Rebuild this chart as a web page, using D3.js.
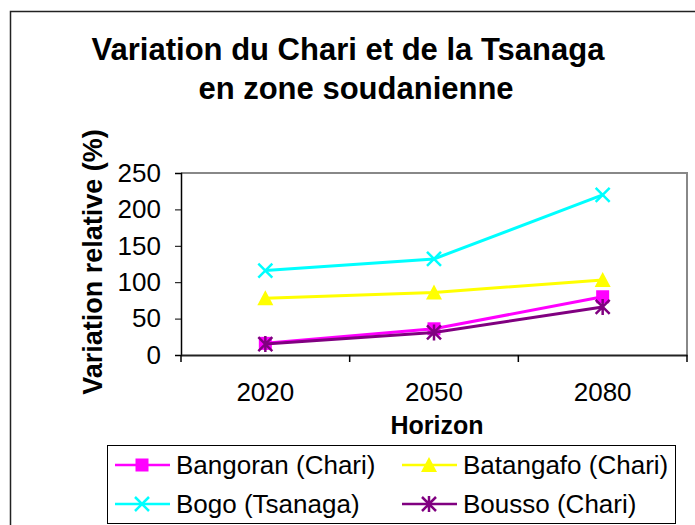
<!DOCTYPE html>
<html>
<head>
<meta charset="utf-8">
<script src="https://cdn.jsdelivr.net/npm/d3@7"></script>
<style>
  body { margin: 0; background: #fff; }
  svg text { font-family: "Liberation Sans", Arial, sans-serif; }
</style>
</head>
<body>
<div id="chartDiv"></div>
<script>
// data
var horizons = ["2020", "2050", "2080"];
var bangoran = [16, 36, 80];
var batangafo = [78, 86, 103];
var bogo = [116, 132, 220];
var bousso = [15, 31, 66];
var yTicks = [0, 50, 100, 150, 200, 250];

var series = [
    {name: "Bangoran (Chari)", values: bangoran, color: "#ff00ff", marker: "square"},
    {name: "Batangafo (Chari)", values: batangafo, color: "#ffff00", marker: "triangle"},
    {name: "Bogo (Tsanaga)", values: bogo, color: "#00ffff", marker: "cross"},
    {name: "Bousso (Chari)", values: bousso, color: "#800080", marker: "star"}
];

var width = 695, height = 525;
var margin = {top: 173, right: 8, bottom: 170, left: 181};

var svg = d3.select("#chartDiv").append("svg")
    .attr("width", width)
    .attr("height", height);

// outer chart frame (runs past the window edges like the original)
svg.append("rect")
    .attr("x", 10.5).attr("y", 11.5)
    .attr("width", 700).attr("height", 530)
    .attr("fill", "none")
    .attr("stroke", "#222")
    .attr("stroke-width", 1.5);

// title
var title = svg.append("text")
    .attr("text-anchor", "middle")
    .style("font-weight", "bold")
    .style("font-size", "31px");
title.append("tspan").attr("x", 348).attr("y", 60).text("Variation du Chari et de la Tsanaga");
title.append("tspan").attr("x", 356).attr("y", 99).text("en zone soudanienne");

var x = d3.scaleBand()
    .domain(horizons)
    .range([margin.left, width - margin.right]);

var y = d3.scaleLinear()
    .domain([0, 250])
    .range([height - margin.bottom, margin.top]);

// plot border (gray top/right)
svg.append("path")
    .attr("d", `M${x.range()[0]},${y(250)}H${x.range()[1]}V${y(0)}`)
    .attr("fill", "none")
    .attr("stroke", "#888")
    .attr("stroke-width", 2);

var yAxis = svg.append("g")
    .attr("transform", `translate(${margin.left},0)`)
    .call(d3.axisLeft(y).tickValues(yTicks).tickSize(6).tickPadding(14));
yAxis.select(".domain").attr("stroke", "#000").attr("stroke-width", 1.5);
yAxis.selectAll("text").style("font-size", "26px").attr("fill", "#000")
    .attr("font-family", null);

var xAxis = svg.append("g")
    .attr("transform", `translate(0,${y(0)})`)
    .call(d3.axisBottom(x).tickSize(0).tickPadding(28));
xAxis.select(".domain").attr("stroke", "#222").attr("stroke-width", 2);
xAxis.selectAll("text").style("font-size", "26px").attr("fill", "#000")
    .attr("font-family", null);
// category boundary ticks
xAxis.selectAll(".bound")
    .data(horizons.concat(["end"]))
    .join("line")
    .attr("class", "bound")
    .attr("x1", (d, i) => i < horizons.length ? x(d) : x.range()[1])
    .attr("x2", (d, i) => i < horizons.length ? x(d) : x.range()[1])
    .attr("y1", 0).attr("y2", 7)
    .attr("stroke", "#000").attr("stroke-width", 1.5);

// axis titles
svg.append("text")
    .attr("transform", `translate(102,262) rotate(-90)`)
    .attr("text-anchor", "middle")
    .style("font-weight", "bold")
    .style("font-size", "27px")
    .text("Variation relative (%)");

svg.append("text")
    .attr("x", 437).attr("y", 434)
    .attr("text-anchor", "middle")
    .style("font-weight", "bold")
    .style("font-size", "25px")
    .text("Horizon");

function drawMarker(g, type, color) {
    if (type === "square") {
        g.append("rect").attr("x", -6.5).attr("y", -6.5).attr("width", 13).attr("height", 13)
            .attr("fill", color);
    } else if (type === "triangle") {
        g.append("path").attr("d", "M0,-8L8,7H-8Z").attr("fill", color);
    } else if (type === "cross") {
        g.append("path").attr("d", "M-7,-7L7,7M-7,7L7,-7")
            .attr("stroke", color).attr("stroke-width", 2.5).attr("fill", "none");
    } else if (type === "star") {
        g.append("path").attr("d", "M-7,-7L7,7M-7,7L7,-7M0,-8V8")
            .attr("stroke", color).attr("stroke-width", 2.5).attr("fill", "none");
    }
}

var line = d3.line()
    .x((d, i) => x(horizons[i]) + x.bandwidth() / 2)
    .y(d => y(d));

series.forEach(s => {
    svg.append("path")
        .attr("d", line(s.values))
        .attr("fill", "none")
        .attr("stroke", s.color)
        .attr("stroke-width", 3);
    s.values.forEach((v, i) => {
        var g = svg.append("g")
            .attr("transform", `translate(${x(horizons[i]) + x.bandwidth() / 2},${y(v)})`);
        drawMarker(g, s.marker, s.color);
    });
});

// legend
var legend = svg.append("g");
legend.append("rect")
    .attr("x", 107.5).attr("y", 445.5)
    .attr("width", 568).attr("height", 78)
    .attr("fill", "#fff")
    .attr("stroke", "#000")
    .attr("stroke-width", 1);

var legendCols = [115, 402];
var legendRows = [465, 504];
series.forEach((s, i) => {
    var lx = legendCols[i % 2], ly = legendRows[Math.floor(i / 2)];
    var item = legend.append("g").attr("transform", `translate(${lx},${ly})`);
    item.append("line").attr("x1", 0).attr("x2", 55).attr("y1", 0).attr("y2", 0)
        .attr("stroke", s.color).attr("stroke-width", 2.5);
    drawMarker(item.append("g").attr("transform", "translate(27,0)"), s.marker, s.color);
    item.append("text")
        .attr("x", 61).attr("y", 0).attr("dy", "0.36em")
        .style("font-size", "26px")
        .text(s.name);
});
</script>
</body>
</html>
